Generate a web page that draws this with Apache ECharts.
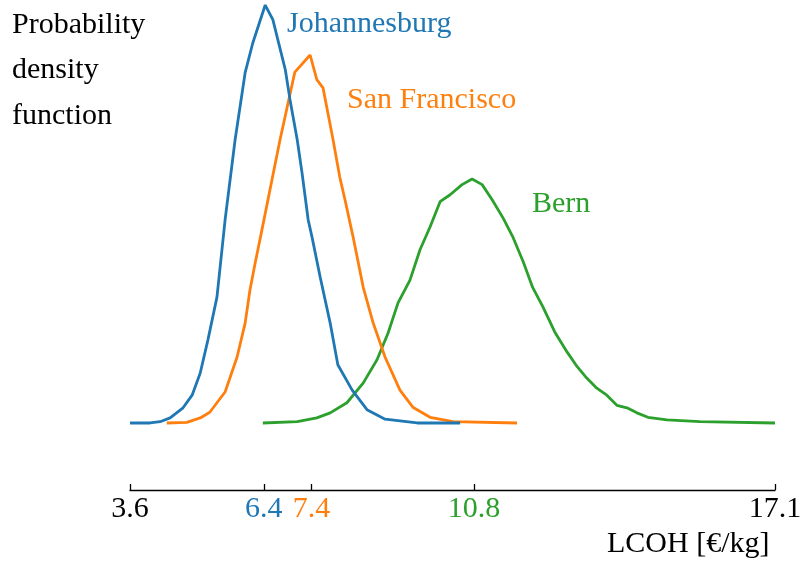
<!DOCTYPE html>
<html>
<head>
<meta charset="utf-8">
<script src="https://cdn.jsdelivr.net/npm/echarts@6/dist/echarts.min.js"></script>
<style>
html,body{margin:0;padding:0;background:#fff;}
#chart{width:800px;height:563px;}
</style>
</head>
<body>
<div id="chart"></div>
<script>
// ---- data ----
var categories = ['Johannesburg', 'San Francisco', 'Bern'];
var tickValues = [3.6, 6.4, 7.4, 10.8, 17.1];
var tickLabels = ['3.6', '6.4', '7.4', '10.8', '17.1'];

var johannesburgX = [3.60, 4.02, 4.23, 4.44, 4.71, 4.90, 5.07, 5.23, 5.42, 5.59, 5.80, 6.01, 6.17, 6.43, 6.59, 6.85, 6.95, 7.10, 7.20, 7.33, 7.41, 7.58, 7.79, 7.95, 8.25, 8.56, 8.94, 9.61, 10.51];
var johannesburgY = [0, 0, 0.002, 0.008, 0.024, 0.044, 0.079, 0.131, 0.199, 0.321, 0.448, 0.554, 0.601, 0.661, 0.638, 0.559, 0.511, 0.448, 0.396, 0.321, 0.294, 0.231, 0.158, 0.092, 0.052, 0.021, 0.006, 0, 0];

var sanFranciscoX = [4.37, 4.79, 5.07, 5.27, 5.59, 5.84, 6.01, 6.11, 6.22, 6.36, 6.74, 7.05, 7.37, 7.51, 7.64, 7.74, 7.85, 7.99, 8.10, 8.27, 8.48, 8.69, 8.94, 9.25, 9.52, 9.88, 10.36, 11.70];
var sanFranciscoY = [0, 0.001, 0.008, 0.017, 0.049, 0.104, 0.158, 0.210, 0.253, 0.305, 0.448, 0.555, 0.582, 0.543, 0.530, 0.491, 0.448, 0.389, 0.353, 0.294, 0.215, 0.158, 0.104, 0.052, 0.025, 0.009, 0.002, 0];

var bernX = [6.38, 7.10, 7.51, 7.79, 8.14, 8.48, 8.77, 9.00, 9.21, 9.46, 9.67, 9.88, 10.09, 10.30, 10.55, 10.76, 10.97, 11.18, 11.41, 11.62, 11.83, 12.03, 12.24, 12.49, 12.75, 12.96, 13.16, 13.37, 13.58, 13.79, 14.00, 14.21, 14.44, 14.84, 15.53, 17.10];
var bernY = [0, 0.002, 0.008, 0.016, 0.032, 0.063, 0.100, 0.142, 0.190, 0.226, 0.274, 0.310, 0.350, 0.361, 0.377, 0.386, 0.377, 0.353, 0.324, 0.293, 0.255, 0.214, 0.184, 0.144, 0.112, 0.089, 0.071, 0.055, 0.044, 0.028, 0.024, 0.016, 0.009, 0.005, 0.002, 0];

function zip(xs, ys) { return xs.map(function (x, i) { return [x, ys[i]]; }); }

var colors = ['#1f77b4', '#ff7f0e', '#2ca02c'];
var FONT = '"Liberation Serif", "Times New Roman", serif';
var labelStyleKey = {'6.4': 'c0', '7.4': 'c1', '10.8': 'c2'};

var chart = echarts.init(document.getElementById('chart'), null, {renderer: 'canvas'});

var option = {
  animation: false,
  backgroundColor: '#fff',
  grid: {left: 130, right: 25, top: 0, bottom: 73, containLabel: false, outerBoundsMode: 'none'},
  xAxis: {
    type: 'value',
    min: 3.6,
    max: 17.1,
    splitLine: {show: false},
    axisLine: {show: true, onZero: false, lineStyle: {color: '#000', width: 1.3}},
    axisTick: {show: true, inside: true, length: 6, customValues: tickValues, lineStyle: {color: '#000', width: 1.3}},
    axisLabel: {
      show: true,
      customValues: tickValues,
      margin: 4,
      fontFamily: FONT,
      fontSize: 30,
      color: '#000',
      hideOverlap: false,
      formatter: function (v) {
        var idx = -1;
        for (var i = 0; i < tickValues.length; i++) { if (Math.abs(tickValues[i] - v) < 1e-6) idx = i; }
        var t = idx >= 0 ? tickLabels[idx] : String(v);
        var k = labelStyleKey[t];
        return k ? '{' + k + '|' + t + '}' : '{k|' + t + '}';
      },
      rich: {
        k: {color: '#000', fontFamily: FONT, fontSize: 30},
        c0: {color: colors[0], fontFamily: FONT, fontSize: 30},
        c1: {color: colors[1], fontFamily: FONT, fontSize: 30},
        c2: {color: colors[2], fontFamily: FONT, fontSize: 30}
      }
    }
  },
  yAxis: {
    type: 'value',
    min: -0.106,
    max: 0.669,
    show: false,
    splitLine: {show: false}
  },
  series: [
    {name: categories[0], type: 'line', data: zip(johannesburgX, johannesburgY), showSymbol: false, symbol: 'none', smooth: false, lineStyle: {color: colors[0], width: 2.8}, itemStyle: {color: colors[0]}, z: 3},
    {name: categories[1], type: 'line', data: zip(sanFranciscoX, sanFranciscoY), showSymbol: false, symbol: 'none', smooth: false, lineStyle: {color: colors[1], width: 2.8}, itemStyle: {color: colors[1]}, z: 2},
    {name: categories[2], type: 'line', data: zip(bernX, bernY), showSymbol: false, symbol: 'none', smooth: false, lineStyle: {color: colors[2], width: 2.8}, itemStyle: {color: colors[2]}, z: 1}
  ],
  graphic: [
    {type: 'text', left: 12, top: 2, style: {text: 'Probability\ndensity\nfunction', font: '30px ' + FONT, fill: '#000', lineHeight: 45.5}},
    {type: 'text', x: 287, y: 24, style: {text: categories[0], font: '30px ' + FONT, fill: colors[0], verticalAlign: 'middle'}},
    {type: 'text', x: 347, y: 100, style: {text: categories[1], font: '30px ' + FONT, fill: colors[1], verticalAlign: 'middle'}},
    {type: 'text', x: 532, y: 204, style: {text: categories[2], font: '30px ' + FONT, fill: colors[2], verticalAlign: 'middle'}},
    {type: 'text', x: 607, y: 544, style: {text: 'LCOH [€/kg]', font: '30px ' + FONT, fill: '#000', verticalAlign: 'middle'}}
  ]
};
chart.setOption(option);
</script>
</body>
</html>
